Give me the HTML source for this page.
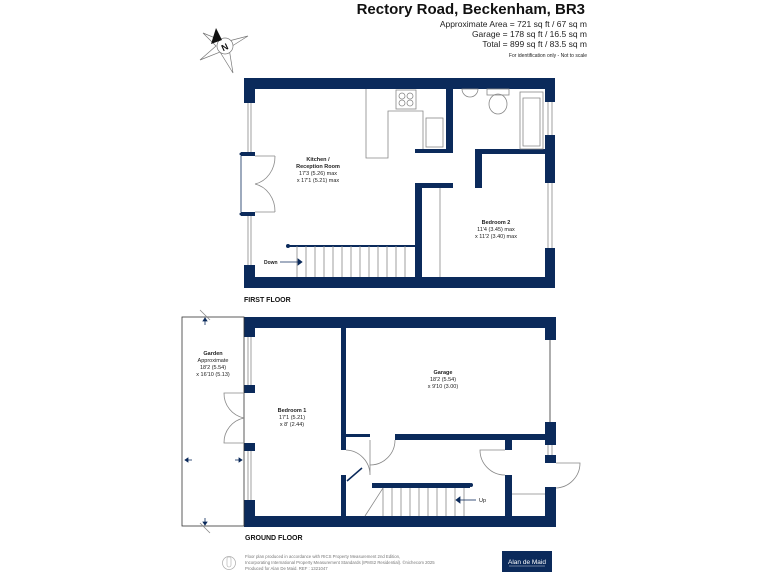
<!DOCTYPE html>
<html><head><meta charset="utf-8"><style>
html,body{margin:0;padding:0;background:#fff;width:768px;height:576px;overflow:hidden}
svg{display:block}
text{font-family:"Liberation Sans",sans-serif}
</style></head><body>
<svg width="768" height="576" viewBox="0 0 768 576" xmlns="http://www.w3.org/2000/svg">
<g fill="#0b2a5b">
<rect x="244" y="78" width="311" height="11"/>
<rect x="244" y="277" width="311" height="11"/>
<rect x="244" y="78" width="11" height="25"/>
<rect x="244" y="265" width="11" height="23"/>
<rect x="241" y="152" width="14" height="4"/>
<rect x="241" y="212" width="14" height="4"/>
<rect x="545" y="78" width="10" height="24"/>
<rect x="545" y="135" width="10" height="48"/>
<rect x="545" y="248" width="10" height="40"/>
<rect x="446" y="78" width="7" height="75"/>
<rect x="415" y="149" width="38" height="4"/>
<rect x="475" y="149" width="70" height="5"/>
<rect x="475" y="149" width="7" height="39"/>
<rect x="415" y="183" width="38" height="5"/>
<rect x="415" y="183" width="7" height="94"/>
<rect x="244" y="317" width="312" height="11"/>
<rect x="244" y="516" width="312" height="11"/>
<rect x="244" y="317" width="11" height="20"/>
<rect x="244" y="385" width="11" height="8"/>
<rect x="244" y="443" width="11" height="8"/>
<rect x="244" y="500" width="11" height="27"/>
<rect x="545" y="317" width="11" height="23"/>
<rect x="545" y="422" width="11" height="23"/>
<rect x="545" y="455" width="11" height="8"/>
<rect x="545" y="487" width="11" height="40"/>
<rect x="341" y="328" width="5" height="122"/>
<rect x="341" y="475" width="5" height="41"/>
<rect x="346" y="434" width="24" height="3"/>
<rect x="395" y="434" width="150" height="6"/>
<rect x="505" y="440" width="7" height="10"/>
<rect x="505" y="475" width="7" height="41"/>
<rect x="372" y="483" width="98" height="5"/>
<circle cx="471" cy="485" r="2"/>
<circle cx="288" cy="246" r="2"/>
<circle cx="241" cy="154" r="1.5"/>
<circle cx="241" cy="214" r="1.5"/>
</g>
<g fill="none" stroke="#888" stroke-width="0.8">
<line x1="248" y1="103" x2="248" y2="152"/><line x1="251" y1="103" x2="251" y2="152"/>
<line x1="248" y1="216" x2="248" y2="265"/><line x1="251" y1="216" x2="251" y2="265"/>
<line x1="548" y1="102" x2="548" y2="135"/><line x1="552" y1="102" x2="552" y2="135"/>
<line x1="548" y1="183" x2="548" y2="248"/><line x1="552" y1="183" x2="552" y2="248"/>
<line x1="248" y1="337" x2="248" y2="385"/><line x1="251" y1="337" x2="251" y2="385"/>
<line x1="248" y1="451" x2="248" y2="500"/><line x1="251" y1="451" x2="251" y2="500"/>
<line x1="548" y1="445" x2="548" y2="455"/><line x1="552" y1="445" x2="552" y2="455"/>
<polyline points="366,89 366,158 388,158 388,111 423,111 423,149"/>
<rect x="396" y="90" width="20" height="19"/>
<circle cx="402" cy="96" r="3"/><circle cx="410" cy="96" r="3"/><circle cx="402" cy="103" r="3"/><circle cx="410" cy="103" r="3"/>
<rect x="426" y="118" width="17" height="29"/>
<path d="M462 89 h16 a8 8 0 0 1 -16 0z"/>
<rect x="487" y="89" width="22" height="6"/>
<ellipse cx="498" cy="104" rx="9" ry="10"/>
<rect x="520" y="92" width="23" height="57"/>
<path d="M523 98 h17 v48 h-17z"/>
<path d="M255 156 h20 M255 212 h20 M275 156 a25 28 0 0 1 -20 28 M275 212 a25 28 0 0 0 -20 -28"/>
<line x1="241" y1="156" x2="241" y2="212" stroke="#0b2a5b"/>
<line x1="440" y1="188" x2="440" y2="277"/>
<line x1="288" y1="246" x2="415" y2="246" stroke="#0b2a5b" stroke-width="2"/>
<path d="M297 246v31M306 246v31M315 246v31M324 246v31M333 246v31M342 246v31M351 246v31M360 246v31M369 246v31M378 246v31M387 246v31M396 246v31M405 246v31"/>
<rect x="182" y="317" width="62" height="209" stroke="#333"/>
<line x1="550" y1="340" x2="550" y2="422" stroke="#333"/>
<path d="M244 393 h-20 a25 25 0 0 0 20 25 M244 443 h-20 a25 25 0 0 1 20 -25"/>
<path d="M346 450 a25 25 0 0 1 24 25 M370 440 v35 M395 440 a25 25 0 0 1 -25 25"/>
<path d="M505 450 h-25 a25 25 0 0 0 25 25 M556 463 h24 a25 25 0 0 1 -24 25 M512 494 h33"/>
<path d="M383 488v28M392 488v28M401 488v28M410 488v28M419 488v28M428 488v28M437 488v28M446 488v28M455 488v28M464 488v28 M383 488 l-18 28"/>
<path d="M200 310 l10 10 M200 523 l10 10"/>
</g>
<g stroke="#0b2a5b" stroke-width="0.8" fill="#0b2a5b">
<line x1="280" y1="262" x2="298" y2="262"/><path d="M298 259 l4 3 -4 3z"/>
<line x1="460" y1="500" x2="476" y2="500"/><path d="M460 497 l-4 3 4 3z"/>
<line x1="347" y1="481" x2="362" y2="468" stroke-width="1.5"/>
<line x1="205" y1="318" x2="205" y2="325"/><path d="M203 321 l2 -3 2 3z"/>
<line x1="205" y1="525" x2="205" y2="518"/><path d="M203 522 l2 3 2 -3z"/>
<line x1="185" y1="460" x2="192" y2="460"/><path d="M188 458 l-3 2 3 2z"/>
<line x1="235" y1="460" x2="242" y2="460"/><path d="M239 458 l3 2 -3 2z"/>
</g>
<text x="585" y="14" font-size="15" font-weight="bold" text-anchor="end" style="fill:#111">Rectory Road, Beckenham, BR3</text>
<g font-size="8.5" text-anchor="end" style="fill:#222">
<text x="587" y="27">Approximate Area = 721 sq ft / 67 sq m</text>
<text x="587" y="37">Garage = 178 sq ft / 16.5 sq m</text>
<text x="587" y="47">Total = 899 sq ft / 83.5 sq m</text>
</g>
<text x="587" y="57" font-size="5" text-anchor="end" style="fill:#222">For identification only - Not to scale</text>
<g stroke="#777" stroke-width="0.7" fill="#fff">
<path d="M203 33 L225 42 L248 36 L229 48 L233 73 L220 52 L200 60 L216 46z"/>
<circle cx="225" cy="46" r="8"/>
</g>
<path d="M216 28 L222 40 L211 44z" fill="#111"/>
<text x="221" y="50" font-size="9" font-weight="bold" transform="rotate(-25 225 46)" style="fill:#111">N</text>
<g font-size="5.5" text-anchor="middle" style="fill:#222">
<text x="318" y="161" font-weight="bold">Kitchen /</text>
<text x="318" y="168" font-weight="bold">Reception Room</text>
<text x="318" y="175">17'3 (5.26) max</text>
<text x="318" y="182">x 17'1 (5.21) max</text>
<text x="496" y="224" font-weight="bold">Bedroom 2</text>
<text x="496" y="231">11'4 (3.45) max</text>
<text x="496" y="238">x 11'2 (3.40) max</text>
<text x="213" y="355" font-weight="bold">Garden</text>
<text x="213" y="362">Approximate</text>
<text x="213" y="369">18'2 (5.54)</text>
<text x="213" y="376">x 16'10 (5.13)</text>
<text x="292" y="412" font-weight="bold">Bedroom 1</text>
<text x="292" y="419">17'1 (5.21)</text>
<text x="292" y="426">x 8' (2.44)</text>
<text x="443" y="374" font-weight="bold">Garage</text>
<text x="443" y="381">18'2 (5.54)</text>
<text x="443" y="388">x 9'10 (3.00)</text>
</g>
<text x="264" y="264" font-size="5" font-weight="bold" style="fill:#222">Down</text>
<text x="479" y="502" font-size="5.5" style="fill:#222">Up</text>
<text x="244" y="302" font-size="7" font-weight="bold" style="fill:#111">FIRST FLOOR</text>
<text x="245" y="540" font-size="7" font-weight="bold" style="fill:#111">GROUND FLOOR</text>
<circle cx="229" cy="563" r="6.5" fill="none" stroke="#aaa" stroke-width="0.7"/>
<path d="M227 559 v6 a2 2 0 0 0 4 0 v-6 a2 2 0 0 0 -4 0z" fill="none" stroke="#aaa" stroke-width="0.6"/>
<g font-size="4.3" style="fill:#777">
<text x="245" y="558">Floor plan produced in accordance with RICS Property Measurement 2nd Edition,</text>
<text x="245" y="564">Incorporating International Property Measurement Standards (IPMS2 Residential). ©nichecom 2025</text>
<text x="245" y="570">Produced for Alan De Maid.   REF : 1321047</text>
</g>
<rect x="502" y="551" width="50" height="21" fill="#0b2a5b"/>
<text x="527" y="564" font-size="6.5" text-anchor="middle" style="fill:#fff">Alan de Maid</text>
<line x1="509" y1="566" x2="545" y2="566" stroke="#fff" stroke-width="0.4"/>
</svg>
</body></html>
